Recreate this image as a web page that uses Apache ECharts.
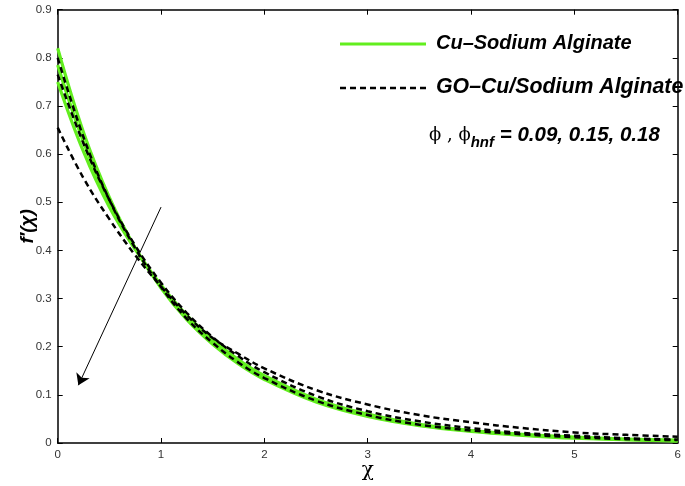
<!DOCTYPE html>
<html>
<head>
<meta charset="utf-8">
<script src="https://cdn.jsdelivr.net/npm/echarts@6/dist/echarts.min.js"></script>
<style>html,body{margin:0;padding:0;background:#fff}#c{width:685px;height:486px}</style>
</head>
<body>
<div id="c"></div>
<script>
const xs = [0, 0.25, 0.5, 0.75, 1, 1.25, 1.5, 1.75, 2, 2.5, 3, 3.5, 4, 4.5, 5, 5.5, 6];
// Cu-Sodium Alginate (green), phi = 0.09, 0.15, 0.18
const cuA = [0.82, 0.645, 0.51, 0.405, 0.322, 0.256, 0.205, 0.164, 0.132, 0.085, 0.055, 0.036, 0.024, 0.016, 0.010, 0.007, 0.004];
const cuB = [0.785, 0.625, 0.50, 0.405, 0.325, 0.26, 0.21, 0.168, 0.136, 0.088, 0.057, 0.037, 0.025, 0.017, 0.011, 0.007, 0.005];
const cuC = [0.75, 0.605, 0.49, 0.402, 0.328, 0.265, 0.215, 0.173, 0.14, 0.091, 0.06, 0.039, 0.026, 0.018, 0.012, 0.008, 0.006];
// GO-Cu/Sodium Alginate (dashed black)
const goA = [0.80, 0.635, 0.505, 0.405, 0.324, 0.258, 0.208, 0.167, 0.135, 0.088, 0.058, 0.038, 0.026, 0.018, 0.012, 0.008, 0.006];
const goB = [0.765, 0.622, 0.505, 0.41, 0.333, 0.27, 0.22, 0.18, 0.147, 0.098, 0.066, 0.045, 0.031, 0.021, 0.015, 0.010, 0.007];
const goC = [0.655, 0.55, 0.465, 0.39, 0.325, 0.265, 0.218, 0.185, 0.155, 0.11, 0.08, 0.058, 0.043, 0.031, 0.022, 0.017, 0.013];
const xTicks = [0, 1, 2, 3, 4, 5, 6];
const yTicks = [0, 0.1, 0.2, 0.3, 0.4, 0.5, 0.6, 0.7, 0.8, 0.9];
const arrowFrom = [1.0, 0.49];
const arrowTo = [0.2, 0.12];

const GREEN = '#62ee1e';
const nameCu = 'Cu\u2013Sodium Alginate';
const nameGo = 'GO\u2013Cu/Sodium Alginate';
const pair = arr => xs.map((x, i) => [x, arr[i]]);

const green = (arr, z) => ({
  name: nameCu, type: 'line', data: pair(arr), smooth: 0.4, symbol: 'none', z: z,
  lineStyle: { color: GREEN, width: 3.2 }, itemStyle: { color: GREEN }
});
const dashed = (arr, z) => ({
  name: nameGo, type: 'line', data: pair(arr), smooth: 0.4, symbol: 'none', z: z,
  lineStyle: { color: '#000', width: 2.5, type: [6, 4] }, itemStyle: { color: '#000' }
});

const axisLine = { show: true, onZero: false, lineStyle: { color: '#000', width: 1.5 } };
const tick = { show: true, inside: true, length: 5, lineStyle: { color: '#000', width: 1 } };
const labelStyle = { color: '#333', fontSize: 11.5, fontFamily: 'Liberation Sans, Arial, sans-serif' };

const series = [green(cuA, 2), green(cuB, 2), green(cuC, 2), dashed(goA, 3), dashed(goB, 3), dashed(goC, 3)];
series[0].markLine = {
  silent: true, animation: false,
  symbol: ['none', 'arrow'], symbolSize: 11,
  lineStyle: { color: '#000', width: 1, type: 'solid' },
  label: { show: false },
  data: [[{ coord: arrowFrom }, { coord: arrowTo }]]
};

const boldItalic = { fontStyle: 'italic', fontWeight: 'bold', fontFamily: 'Liberation Sans, Arial, sans-serif', fill: '#000', verticalAlign: 'middle', textVerticalAlign: 'middle' };

const chart = echarts.init(document.getElementById('c'), null, { renderer: 'canvas' });
chart.setOption({
  animation: false,
  backgroundColor: '#fff',
  grid: { left: 57.7, right: 7.3, top: 9.7, bottom: 42.7, containLabel: false },
  xAxis: [{
    type: 'value', min: 0, max: 6, interval: 1,
    name: '\u03c7', nameLocation: 'middle', nameGap: 18, nameMoveOverlap: false,
    nameTextStyle: { fontSize: 20, color: '#000', fontFamily: 'DejaVu Serif, serif' },
    axisLine: axisLine, axisTick: tick,
    axisLabel: Object.assign({ margin: 6 }, labelStyle), splitLine: { show: false }
  }, {
    type: 'value', min: 0, max: 6, interval: 1, position: 'top',
    axisLine: axisLine, axisTick: tick,
    axisLabel: { show: false }, splitLine: { show: false }
  }],
  yAxis: [{
    type: 'value', min: 0, max: 0.9, interval: 0.1,
    name: 'f\u2032(\u03c7)', nameLocation: 'middle', nameGap: 20, nameMoveOverlap: false,
    nameTextStyle: { fontSize: 19, fontStyle: 'italic', fontWeight: 'bold', color: '#000', fontFamily: 'Liberation Sans, Arial, sans-serif' },
    axisLine: axisLine, axisTick: tick,
    axisLabel: Object.assign({ margin: 6, formatter: v => String(Math.round(v * 10) / 10) }, labelStyle),
    splitLine: { show: false }
  }, {
    type: 'value', min: 0, max: 0.9, interval: 0.1, position: 'right',
    axisLine: axisLine, axisTick: tick,
    axisLabel: { show: false }, splitLine: { show: false }
  }],
  graphic: [
    { type: 'line', z: 10, shape: { x1: 340, y1: 44, x2: 426, y2: 44 }, style: { stroke: GREEN, lineWidth: 3 } },
    { type: 'text', z: 10, x: 436, y: 43, style: Object.assign({ text: nameCu, fontSize: 20 }, boldItalic) },
    { type: 'line', z: 10, shape: { x1: 340, y1: 88, x2: 426, y2: 88 }, style: { stroke: '#000', lineWidth: 2.5, lineDash: [6, 4] } },
    { type: 'text', z: 10, x: 436, y: 87, style: Object.assign({ text: nameGo, fontSize: 21.3 }, boldItalic) },
    {
      type: 'text', x: 429, y: 135, z: 10,
      style: {
        verticalAlign: 'middle', textVerticalAlign: 'middle',
        text: '{p|\u03d5 , \u03d5}{s|hnf}{v| = 0.09, 0.15, 0.18}',
        rich: {
          p: { fontSize: 18, fontFamily: 'DejaVu Serif, serif', fill: '#000' },
          s: { fontSize: 15, fontStyle: 'italic', fontWeight: 'bold', fontFamily: 'Liberation Sans, Arial, sans-serif', fill: '#000', padding: [16, 0, 0, 0] },
          v: { fontSize: 20.5, fontStyle: 'italic', fontWeight: 'bold', fontFamily: 'Liberation Sans, Arial, sans-serif', fill: '#000' }
        }
      }
    }
  ],
  series: series
});
</script>
</body>
</html>
